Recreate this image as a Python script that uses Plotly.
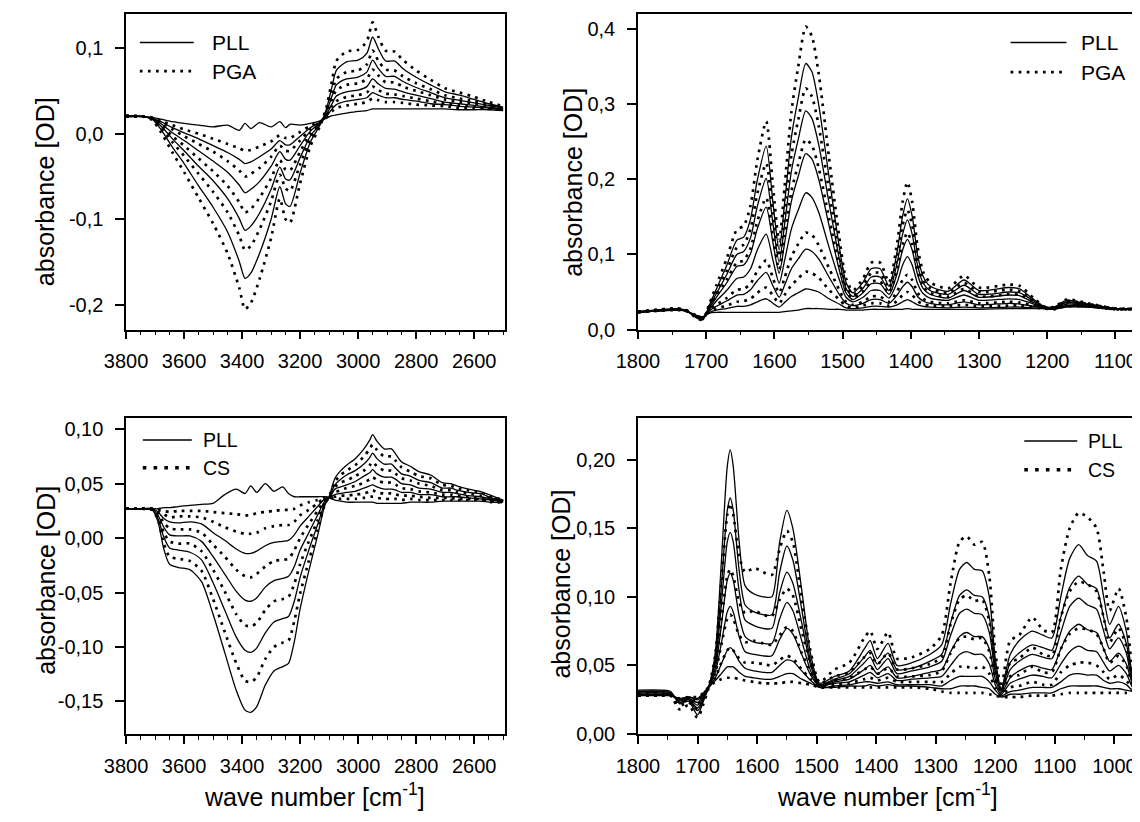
import plotly.graph_objects as go

# page is 1140x822; the browser body keeps an 8px margin, so the figure is drawn 8px in
PAGE_W, PAGE_H = 1140, 822
OFF = 8
W, H = PAGE_W - OFF, PAGE_H - OFF

# ---------------- data ----------------
# top-left: 3800-2500 cm-1, PLL (solid) / PGA (dotted)
tl_x = [3800, 3740, 3710, 3680, 3640, 3600, 3550, 3500, 3450, 3410, 3390, 3370, 3340, 3300, 3270,
        3250, 3235, 3200, 3165, 3130, 3110, 3090, 3075, 3040, 3000, 2970, 2950, 2930, 2905, 2875,
        2845, 2800, 2750, 2700, 2650, 2600, 2550, 2500]
tl_pga = [
    [.021, .020, .016, .002, -.022, -.045, -.075, -.105, -.140, -.180, -.205, -.198, -.170, -.122, -.076, -.100, -.104, -.058, -.015, .010, .030, .062, .085, .096, .098, .108, .130, .113, .097, .096, .086, .074, .063, .053, .048, .043, .037, .032],
    [.021, .020, .017, .007, -.010, -.026, -.047, -.068, -.092, -.119, -.136, -.131, -.112, -.079, -.048, -.064, -.067, -.036, -.006, .012, .026, .048, .064, .072, .074, .081, .097, .085, .075, .074, .067, .059, .052, .045, .041, .038, .034, .030],
    [.020, .020, .018, .010, -.003, -.014, -.029, -.044, -.061, -.080, -.092, -.088, -.075, -.052, -.031, -.042, -.043, -.021, .000, .013, .024, .040, .051, .057, .059, .064, .075, .068, .060, .060, .055, .050, .045, .040, .037, .035, .032, .029],
    [.020, .020, .018, .013, .005, -.003, -.012, -.021, -.032, -.043, -.050, -.047, -.040, -.027, -.014, -.020, -.020, -.008, .005, .014, .021, .032, .038, .043, .045, .048, .055, .051, .047, .046, .044, .041, .038, .035, .033, .032, .030, .028],
    [.020, .020, .019, .015, .010, .005, .000, -.006, -.012, -.017, -.020, -.019, -.015, -.009, -.002, -.005, -.005, .002, .009, .014, .019, .026, .030, .033, .035, .037, .041, .039, .037, .037, .036, .034, .033, .032, .030, .030, .029, .028],
]
tl_pll = [
    [.021, .020, .017, .005, -.016, -.035, -.061, -.086, -.115, -.149, -.169, -.163, -.140, -.100, -.062, -.082, -.085, -.046, -.010, .011, .028, .055, .074, .084, .086, .094, .113, .099, .085, .085, .076, .066, .057, .049, .045, .040, .035, .031],
    [.021, .020, .017, .009, -.006, -.020, -.038, -.055, -.076, -.099, -.113, -.108, -.093, -.065, -.039, -.053, -.054, -.028, -.003, .012, .025, .044, .057, .064, .066, .072, .086, .076, .067, .067, .061, .054, .048, .042, .039, .036, .033, .030],
    [.020, .020, .018, .012, .001, -.008, -.020, -.032, -.045, -.060, -.069, -.065, -.056, -.038, -.021, -.030, -.031, -.014, .003, .013, .022, .035, .044, .049, .051, .055, .064, .058, .053, .052, .049, .045, .041, .037, .035, .033, .031, .029],
    [.020, .020, .018, .014, .007, .001, -.006, -.014, -.022, -.030, -.035, -.033, -.027, -.018, -.008, -.013, -.013, -.003, .007, .014, .020, .029, .034, .038, .040, .042, .048, .045, .042, .042, .040, .038, .035, .034, .032, .031, .030, .028],
    [.020, .020, .019, .017, .014, .012, .010, .008, .010, .004, .012, .006, .013, .008, .014, .007, .011, .010, .012, .015, .018, .021, .022, .024, .026, .027, .029, .029, .029, .029, .029, .029, .029, .029, .028, .028, .028, .027],
]

# top-right: 1800-1000 cm-1, PLL (solid) / PGA (dotted)
tr_x = [1800, 1745, 1730, 1715, 1705, 1695, 1685, 1670, 1655, 1645, 1635, 1625, 1612, 1602, 1593,
        1585, 1575, 1565, 1554, 1545, 1535, 1520, 1505, 1495, 1485, 1470, 1458, 1445, 1432, 1420,
        1412, 1405, 1398, 1390, 1382, 1372, 1345, 1322, 1300, 1256, 1240, 1220, 1205, 1190, 1172,
        1140, 1100, 1040]
tr_pga = [
    [.024, .028, .026, .016, .013, .035, .059, .094, .133, .138, .165, .225, .277, .190, .118, .190, .290, .350, .403, .390, .340, .230, .124, .068, .052, .068, .089, .089, .063, .115, .170, .196, .170, .110, .077, .063, .055, .072, .056, .060, .058, .042, .031, .030, .040, .035, .028, .028],
    [.024, .028, .026, .017, .014, .032, .051, .078, .109, .113, .134, .181, .221, .153, .097, .154, .232, .279, .321, .310, .271, .185, .103, .059, .046, .059, .075, .075, .055, .096, .139, .159, .139, .092, .066, .055, .049, .062, .050, .053, .051, .039, .030, .029, .038, .034, .028, .028],
    [.024, .027, .026, .017, .015, .030, .045, .066, .089, .092, .108, .144, .175, .123, .080, .124, .184, .220, .253, .245, .215, .149, .085, .051, .042, .051, .064, .064, .049, .080, .113, .129, .113, .077, .057, .049, .044, .054, .044, .047, .046, .036, .030, .029, .036, .033, .028, .028],
    [.023, .027, .025, .018, .016, .026, .033, .042, .053, .054, .061, .078, .092, .068, .049, .069, .097, .114, .129, .126, .112, .082, .053, .037, .033, .037, .044, .044, .037, .051, .066, .073, .066, .049, .041, .037, .035, .039, .035, .037, .036, .032, .029, .028, .033, .031, .027, .028],
    [.023, .026, .025, .019, .016, .024, .028, .032, .037, .038, .041, .049, .056, .045, .035, .046, .059, .068, .077, .075, .069, .053, .040, .032, .029, .032, .035, .035, .032, .038, .046, .050, .046, .038, .034, .032, .031, .033, .031, .032, .032, .030, .028, .027, .031, .031, .027, .028],
]
tr_pll = [
    [.024, .028, .026, .016, .013, .033, .054, .085, .119, .123, .147, .199, .244, .168, .106, .168, .256, .308, .354, .343, .299, .204, .111, .063, .049, .063, .081, .081, .058, .104, .151, .174, .151, .099, .071, .058, .051, .066, .052, .056, .054, .040, .031, .030, .039, .034, .028, .028],
    [.024, .027, .026, .017, .014, .031, .048, .073, .100, .104, .122, .164, .201, .140, .090, .140, .211, .253, .291, .281, .246, .169, .095, .055, .044, .055, .070, .070, .052, .089, .127, .146, .127, .085, .062, .052, .047, .059, .047, .050, .049, .038, .030, .029, .037, .034, .028, .028],
    [.024, .027, .026, .017, .015, .029, .043, .062, .084, .086, .101, .134, .163, .115, .075, .115, .171, .204, .234, .227, .200, .139, .080, .049, .040, .049, .061, .061, .047, .075, .106, .120, .106, .073, .055, .047, .042, .052, .043, .046, .045, .036, .030, .029, .036, .033, .028, .028],
    [.023, .027, .025, .018, .015, .027, .038, .052, .068, .070, .081, .106, .127, .092, .062, .092, .134, .159, .182, .176, .156, .110, .067, .043, .037, .043, .052, .052, .042, .063, .086, .097, .086, .061, .048, .042, .039, .046, .039, .041, .040, .034, .029, .028, .034, .032, .027, .028],
    [.023, .026, .025, .018, .016, .025, .031, .038, .046, .047, .053, .065, .076, .058, .043, .059, .081, .094, .107, .104, .094, .070, .047, .035, .032, .035, .040, .040, .035, .046, .057, .063, .057, .044, .038, .035, .033, .037, .033, .035, .034, .031, .029, .028, .032, .031, .027, .028],
    [.023, .026, .025, .019, .017, .023, .026, .028, .031, .031, .033, .037, .041, .035, .030, .036, .044, .049, .054, .053, .050, .041, .034, .029, .028, .029, .031, .031, .030, .033, .037, .040, .037, .033, .031, .030, .029, .030, .029, .030, .030, .029, .028, .027, .031, .030, .027, .028],
    [.023, .026, .025, .019, .017, .022, .023, .023, .023, .023, .023, .023, .023, .023, .023, .024, .025, .026, .028, .028, .028, .027, .027, .026, .026, .026, .027, .027, .027, .027, .027, .028, .027, .027, .027, .027, .027, .027, .027, .028, .028, .028, .028, .027, .030, .030, .027, .028],
]

# bottom-left: 3800-2500 cm-1, PLL (solid) / CS (dotted)
bl_x = [3800, 3750, 3710, 3690, 3670, 3650, 3620, 3580, 3540, 3500, 3460, 3420, 3390, 3370, 3350,
        3320, 3290, 3260, 3240, 3220, 3200, 3170, 3140, 3115, 3100, 3080, 3060, 3040, 3010, 2980,
        2960, 2950, 2935, 2910, 2885, 2870, 2850, 2820, 2790, 2750, 2710, 2680, 2660, 2620, 2580,
        2540, 2500]
bl_pll = [
    [.027, .027, .026, .015, -.010, -.024, -.027, -.029, -.040, -.070, -.105, -.140, -.158, -.160, -.155, -.135, -.122, -.118, -.115, -.095, -.065, -.030, .002, .030, .038, .055, .062, .067, .073, .082, .090, .095, .089, .082, .082, .077, .070, .066, .061, .058, .051, .050, .048, .045, .043, .039, .035],
    [.027, .027, .026, .018, .001, -.009, -.011, -.013, -.020, -.041, -.066, -.091, -.103, -.105, -.101, -.087, -.077, -.074, -.072, -.058, -.036, -.011, .012, .032, .038, .049, .054, .058, .062, .068, .074, .078, .073, .068, .068, .064, .059, .057, .053, .051, .046, .046, .044, .042, .041, .037, .034],
    [.027, .027, .027, .021, .010, .003, .002, .002, -.003, -.017, -.033, -.049, -.057, -.058, -.055, -.045, -.039, -.037, -.035, -.026, -.011, .005, .021, .034, .037, .045, .047, .049, .052, .057, .060, .063, .059, .056, .056, .054, .050, .049, .046, .045, .042, .042, .041, .039, .038, .036, .034],
    [.027, .027, .027, .024, .018, .015, .014, .015, .013, .005, -.002, -.010, -.014, -.014, -.012, -.007, -.004, -.003, -.002, .003, .011, .020, .029, .036, .037, .040, .041, .042, .043, .046, .048, .049, .047, .045, .045, .044, .042, .042, .040, .040, .038, .038, .038, .037, .036, .035, .034],
    [.027, .027, .027, .027, .028, .028, .029, .030, .031, .032, .040, .045, .041, .048, .042, .050, .043, .047, .041, .038, .038, .038, .038, .038, .037, .035, .034, .033, .033, .033, .033, .033, .032, .032, .032, .032, .032, .033, .033, .033, .034, .034, .034, .034, .034, .033, .033],
]
bl_cs = [
    [.027, .027, .026, .017, -.005, -.017, -.019, -.021, -.030, -.056, -.086, -.115, -.131, -.132, -.128, -.111, -.100, -.096, -.094, -.076, -.051, -.021, .007, .031, .038, .052, .058, .062, .067, .075, .082, .086, .081, .075, .075, .071, .065, .061, .057, .055, .049, .048, .046, .044, .042, .038, .035],
    [.027, .027, .026, .020, .005, -.003, -.005, -.005, -.012, -.029, -.049, -.070, -.080, -.081, -.078, -.066, -.058, -.056, -.054, -.042, -.024, -.003, .016, .033, .038, .047, .051, .053, .057, .062, .067, .070, .066, .062, .062, .059, .055, .053, .050, .048, .044, .044, .042, .041, .039, .037, .034],
    [.027, .027, .027, .023, .014, .009, .008, .008, .005, -.006, -.017, -.029, -.035, -.036, -.033, -.026, -.021, -.020, -.019, -.011, .000, .013, .025, .035, .037, .042, .044, .046, .048, .051, .054, .056, .053, .051, .051, .049, .046, .045, .043, .042, .040, .040, .039, .038, .037, .035, .034],
    [.027, .027, .027, .025, .022, .019, .020, .020, .019, .015, .010, .006, .004, .004, .005, .009, .011, .012, .012, .015, .021, .026, .032, .037, .037, .038, .039, .039, .040, .041, .043, .044, .042, .041, .041, .040, .039, .039, .038, .037, .037, .037, .036, .036, .036, .034, .033],
    [.027, .027, .027, .026, .025, .024, .025, .025, .025, .024, .023, .022, .021, .021, .023, .024, .025, .026, .026, .027, .030, .033, .035, .037, .037, .037, .036, .036, .036, .037, .038, .038, .037, .036, .036, .036, .035, .036, .035, .035, .035, .035, .035, .035, .035, .033, .033],
]

# bottom-right: 1800-900 cm-1, PLL (solid) / CS (dotted)
br_x = [1800, 1760, 1745, 1730, 1715, 1700, 1690, 1680, 1670, 1660, 1650, 1645, 1640, 1630, 1620,
        1605, 1590, 1575, 1562, 1550, 1540, 1525, 1510, 1495, 1470, 1445, 1420, 1410, 1398, 1380,
        1365, 1340, 1310, 1290, 1275, 1260, 1248, 1235, 1222, 1210, 1200, 1190, 1175, 1160, 1138,
        1120, 1105, 1090, 1075, 1060, 1045, 1030, 1018, 1008, 993, 980, 968, 955]
br_pll = [
    [.032, .032, .031, .022, .024, .014, .024, .036, .060, .125, .195, .207, .195, .140, .108, .102, .100, .100, .140, .163, .150, .105, .058, .037, .042, .046, .062, .068, .055, .066, .050, .052, .058, .065, .095, .120, .125, .120, .119, .100, .055, .033, .058, .068, .075, .072, .070, .100, .128, .138, .130, .126, .100, .080, .093, .075, .040, .034],
    [.031, .031, .030, .023, .025, .017, .025, .036, .055, .107, .163, .172, .163, .119, .094, .089, .087, .087, .118, .137, .127, .091, .053, .036, .040, .044, .056, .061, .051, .059, .047, .048, .053, .058, .081, .101, .105, .101, .100, .085, .049, .032, .052, .059, .065, .063, .061, .085, .107, .115, .109, .106, .085, .070, .080, .066, .038, .033],
    [.031, .031, .030, .023, .025, .019, .026, .036, .052, .094, .140, .147, .140, .104, .083, .079, .077, .077, .103, .118, .110, .081, .050, .036, .039, .042, .052, .056, .047, .055, .044, .046, .049, .053, .072, .088, .091, .088, .087, .074, .045, .031, .047, .053, .058, .056, .055, .074, .093, .099, .094, .091, .075, .062, .070, .059, .036, .033],
    [.030, .030, .029, .024, .026, .021, .027, .035, .048, .079, .112, .117, .112, .086, .071, .067, .066, .066, .084, .096, .090, .068, .046, .035, .038, .040, .047, .050, .044, .049, .041, .042, .045, .047, .060, .071, .074, .071, .071, .062, .040, .030, .041, .046, .050, .048, .047, .062, .075, .080, .076, .074, .062, .053, .059, .051, .035, .032],
    [.029, .029, .029, .025, .026, .023, .028, .035, .045, .066, .089, .093, .089, .071, .060, .058, .057, .057, .069, .077, .073, .058, .043, .035, .037, .038, .043, .045, .041, .044, .039, .040, .041, .042, .050, .058, .060, .058, .058, .051, .036, .029, .037, .040, .043, .042, .041, .051, .060, .064, .061, .060, .052, .046, .050, .044, .033, .031],
    [.029, .029, .028, .025, .027, .025, .029, .035, .041, .051, .061, .063, .061, .053, .048, .046, .045, .045, .050, .054, .053, .046, .039, .034, .035, .036, .038, .038, .037, .038, .036, .036, .036, .035, .039, .042, .042, .042, .042, .038, .032, .028, .031, .032, .034, .034, .034, .038, .043, .044, .043, .043, .039, .037, .038, .036, .031, .031],
    [.028, .028, .028, .026, .027, .026, .030, .035, .039, .044, .049, .049, .049, .045, .042, .041, .040, .040, .042, .044, .044, .040, .037, .034, .034, .035, .035, .036, .035, .036, .035, .035, .034, .033, .033, .035, .035, .035, .034, .033, .029, .027, .029, .029, .030, .030, .030, .033, .035, .035, .035, .035, .034, .033, .033, .032, .031, .030],
]
br_cs = [
    [.030, .030, .028, .018, .021, .012, .022, .036, .058, .110, .160, .168, .160, .130, .118, .121, .118, .116, .135, .148, .140, .098, .060, .038, .047, .052, .070, .075, .062, .074, .055, .056, .062, .072, .110, .140, .144, .138, .140, .115, .060, .034, .068, .072, .085, .076, .074, .120, .150, .161, .158, .150, .118, .090, .106, .085, .045, .035],
    [.029, .029, .028, .021, .023, .018, .025, .036, .050, .083, .115, .120, .115, .096, .088, .090, .087, .086, .098, .106, .101, .075, .051, .037, .042, .045, .056, .059, .051, .059, .047, .048, .051, .056, .080, .098, .101, .097, .098, .082, .048, .031, .052, .055, .063, .058, .057, .085, .104, .111, .109, .104, .085, .067, .077, .064, .039, .033],
    [.029, .029, .028, .023, .025, .022, .027, .035, .045, .065, .084, .087, .084, .072, .067, .068, .066, .065, .072, .078, .075, .059, .045, .035, .039, .041, .047, .049, .044, .048, .042, .042, .043, .046, .059, .070, .071, .069, .070, .060, .040, .030, .042, .043, .049, .045, .045, .062, .073, .077, .076, .073, .062, .052, .057, .050, .035, .032],
    [.028, .028, .028, .025, .026, .024, .029, .035, .041, .052, .061, .063, .061, .055, .052, .052, .051, .050, .054, .057, .055, .047, .040, .035, .036, .037, .040, .041, .039, .041, .038, .038, .038, .038, .044, .049, .049, .048, .049, .044, .033, .028, .034, .035, .038, .036, .036, .045, .050, .052, .052, .050, .045, .040, .043, .039, .033, .031],
    [.028, .028, .028, .026, .027, .027, .030, .035, .038, .040, .041, .041, .041, .040, .039, .038, .037, .037, .037, .038, .038, .037, .036, .034, .034, .034, .034, .034, .034, .034, .034, .034, .033, .031, .030, .030, .030, .030, .030, .029, .028, .027, .027, .027, .028, .028, .028, .029, .030, .030, .030, .030, .030, .030, .030, .030, .030, .030],
]

# tick labels (comma decimals)
tl_yvals = [-0.2, -0.1, 0.0, 0.1]
tl_ytext = ["-0,2", "-0,1", "0,0", "0,1"]
tr_yvals = [0.0, 0.1, 0.2, 0.3, 0.4]
tr_ytext = ["0,0", "0,1", "0,2", "0,3", "0,4"]
bl_yvals = [-0.15, -0.10, -0.05, 0.0, 0.05, 0.10]
bl_ytext = ["-0,15", "-0,10", "-0,05", "0,00", "0,05", "0,10"]
br_yvals = [0.0, 0.05, 0.10, 0.15, 0.20]
br_ytext = ["0,00", "0,05", "0,10", "0,15", "0,20"]

# ---------------- styling ----------------
FONT = "Liberation Sans, Arial, Helvetica, sans-serif"
BLACK = "black"
SOLID = dict(color=BLACK, width=1.3, shape="spline", smoothing=0.7)
DOTTED = dict(color=BLACK, width=2.7, dash="2.7px,5.3px", shape="spline", smoothing=0.7)


def fx(p):
    """page pixel x -> paper fraction"""
    return (p - OFF) / W


def fy(p):
    """page pixel y -> paper fraction"""
    return 1 - (p - OFF) / H


fig = go.Figure()

panels = [
    ("x", "y", tl_x, tl_pll, tl_pga),
    ("x2", "y2", tr_x, tr_pll, tr_pga),
    ("x3", "y3", bl_x, bl_pll, bl_cs),
    ("x4", "y4", br_x, br_pll, br_cs),
]
for xa, ya, xs, solids, dots in panels:
    n = max(len(solids), len(dots))
    for i in range(n):
        if i < len(solids):
            fig.add_trace(go.Scatter(x=xs, y=solids[i], mode="lines", line=SOLID,
                                     xaxis=xa, yaxis=ya, showlegend=False, hoverinfo="skip"))
        if i < len(dots):
            fig.add_trace(go.Scatter(x=xs, y=dots[i], mode="lines", line=DOTTED,
                                     xaxis=xa, yaxis=ya, showlegend=False, hoverinfo="skip"))

TICKFONT = dict(family=FONT, size=20, color=BLACK)


def xaxis(dom, rng, dtick, minor, anchor, mirror=True):
    return dict(domain=dom, range=rng, anchor=anchor, tickmode="linear", tick0=0, dtick=dtick,
                tickformat="d", ticks="outside", ticklen=8, tickwidth=1.5, tickcolor=BLACK,
                ticklabelstandoff=5,
                minor=dict(ticks="outside", ticklen=4, tickwidth=1, tickcolor=BLACK, dtick=minor, tick0=0),
                showline=True, linecolor=BLACK, linewidth=1.5, mirror=mirror,
                showgrid=False, zeroline=False, tickfont=TICKFONT)


def yaxis(dom, rng, vals, text, anchor, mirror=True):
    return dict(domain=dom, range=rng, anchor=anchor, tickmode="array", tickvals=vals, ticktext=text,
                ticks="outside", ticklen=9, tickwidth=1.5, tickcolor=BLACK,
                ticklabelstandoff=8,
                showline=True, linecolor=BLACK, linewidth=1.5, mirror=mirror,
                showgrid=False, zeroline=False, tickfont=TICKFONT)


LX = [fx(106), fx(492)]
RX = [fx(628), 1.0]
TY = [fy(334), fy(14)]
BY = [fy(744), fy(424)]

fig.update_layout(
    width=W, height=H, margin=dict(l=0, r=0, t=0, b=0),
    paper_bgcolor="white", plot_bgcolor="white", showlegend=False,
    font=dict(family=FONT, color=BLACK),
    xaxis=xaxis(LX, [3800, 2495], 200, 50, "y"),
    yaxis=yaxis(TY, [-0.229, 0.140], tl_yvals, tl_ytext, "x"),
    xaxis2=xaxis(RX, [1800, 1064], 100, 50, "y2"),
    yaxis2=yaxis(TY, [0, 0.42], tr_yvals, tr_ytext, "x2", mirror=False),
    xaxis3=xaxis(LX, [3800, 2495], 200, 50, "y3"),
    yaxis3=yaxis(BY, [-0.18, 0.11], bl_yvals, bl_ytext, "x3"),
    xaxis4=xaxis(RX, [1800, 957], 100, 50, "y4"),
    yaxis4=yaxis(BY, [0, 0.23], br_yvals, br_ytext, "x4", mirror=False),
)

annotations = []
shapes = []

# axis titles
for cx, cy in [(24, 194), (561, 185), (24, 588), (550, 592)]:
    annotations.append(dict(x=fx(cx), y=fy(cy), xref="paper", yref="paper", text="absorbance [OD]",
                            textangle=-90, showarrow=False, xanchor="center", yanchor="middle",
                            font=dict(family=FONT, size=25, color=BLACK)))
for cx in [298, 882]:
    annotations.append(dict(x=fx(cx), y=fy(806), xref="paper", yref="paper",
                            text="wave number [cm<sup>-1</sup>]", showarrow=False,
                            xanchor="center", yanchor="middle",
                            font=dict(family=FONT, size=25, color=BLACK)))

# legends
legends = [
    # (line x0, x1, text x, y solid, y dotted, label2, fontsize, dot width)
    (120, 175, 192, 43, 72, "PGA", 21, 2.7),
    (1008, 1065, 1078, 43, 73, "PGA", 21, 2.7),
    (123, 173, 182, 446, 474, "CS", 19.5, 3.6),
    (1022, 1076, 1085, 447, 476, "CS", 19.5, 3.6),
]
for x0, x1, tx, ys, yd, lab2, fs, dw in legends:
    shapes.append(dict(type="line", xref="paper", yref="paper", x0=fx(x0), x1=fx(x1),
                       y0=fy(ys), y1=fy(ys), line=dict(color=BLACK, width=1.5)))
    shapes.append(dict(type="line", xref="paper", yref="paper", x0=fx(x0), x1=fx(x1),
                       y0=fy(yd), y1=fy(yd),
                       line=dict(color=BLACK, width=dw, dash="%.1fpx,%.1fpx" % (dw, dw * 2))))
    annotations.append(dict(x=fx(tx), y=fy(ys), xref="paper", yref="paper", text="PLL",
                            showarrow=False, xanchor="left", yanchor="middle",
                            font=dict(family=FONT, size=fs, color=BLACK)))
    annotations.append(dict(x=fx(tx), y=fy(yd), xref="paper", yref="paper", text=lab2,
                            showarrow=False, xanchor="left", yanchor="middle",
                            font=dict(family=FONT, size=fs, color=BLACK)))

fig.update_layout(annotations=annotations, shapes=shapes)
fig.write_html("out.html")
